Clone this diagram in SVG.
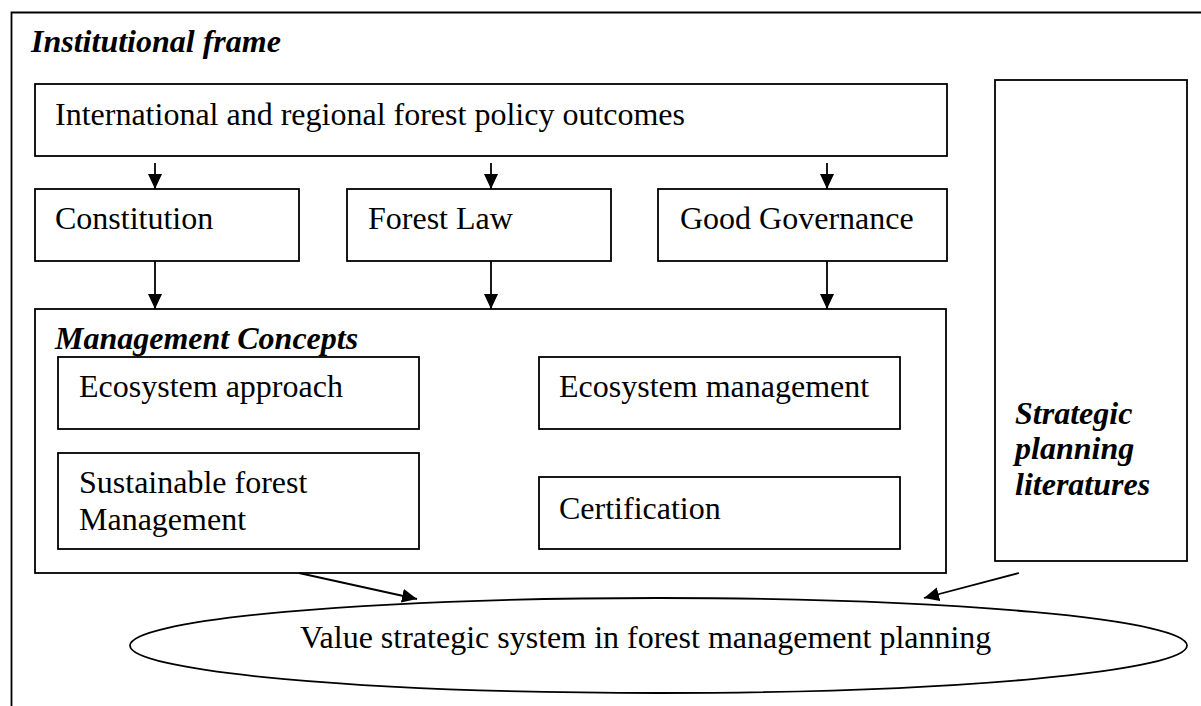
<svg xmlns="http://www.w3.org/2000/svg" width="1201" height="706" viewBox="0 0 1201 706">
<defs>
<style>
.b{fill:#fff;stroke:#000;stroke-width:1.8}
.t{font-family:"Liberation Serif","Times New Roman",serif;font-size:32px;fill:#000}
.bi{font-weight:bold;font-style:italic}
.c{stroke:#000;stroke-width:1.8;fill:none}
</style>
<marker id="ah" markerUnits="userSpaceOnUse" markerWidth="16" markerHeight="15" refX="15" refY="7" orient="auto">
<path d="M0,0 L15,7 L0,14 z" fill="#000"/>
</marker>
</defs>
<rect width="1201" height="706" fill="#fff"/>
<g id="frame">
<path d="M11.5,706 V12.5 H1201" class="c"/>
<text class="t bi" x="31" y="52">Institutional frame</text>
</g>
<g id="international">
<rect class="b" x="35" y="84" width="912" height="72"/>
<text class="t" x="55" y="125">International and regional forest policy outcomes</text>
</g>
<g id="constitution">
<rect class="b" x="35" y="189" width="264" height="72"/>
<text class="t" x="55" y="229">Constitution</text>
</g>
<g id="forestlaw">
<rect class="b" x="347" y="189" width="264" height="72"/>
<text class="t" x="368" y="229">Forest Law</text>
</g>
<g id="goodgov">
<rect class="b" x="658" y="189" width="289" height="72"/>
<text class="t" x="680" y="229">Good Governance</text>
</g>
<g id="management">
<rect class="b" x="35" y="309" width="911" height="264"/>
<text class="t bi" x="55" y="349">Management Concepts</text>
</g>
<g id="ecoapproach">
<rect class="b" x="58" y="357" width="361" height="72"/>
<text class="t" x="79" y="397">Ecosystem approach</text>
</g>
<g id="ecomanagement">
<rect class="b" x="539" y="357" width="361" height="72"/>
<text class="t" x="559" y="397">Ecosystem management</text>
</g>
<g id="sfm">
<rect class="b" x="58" y="453" width="361" height="96"/>
<text class="t" x="79" y="493">Sustainable forest</text>
<text class="t" x="79" y="530">Management</text>
</g>
<g id="certification">
<rect class="b" x="539" y="477" width="361" height="72"/>
<text class="t" x="559" y="519">Certification</text>
</g>
<g id="strategic">
<rect class="b" x="995" y="80" width="192" height="481"/>
<text class="t bi" x="1015" y="424">Strategic</text>
<text class="t bi" x="1015" y="459">planning</text>
<text class="t bi" x="1015" y="495">literatures</text>
</g>
<g id="value">
<ellipse class="b" cx="658.5" cy="645.5" rx="528.5" ry="47.5"/>
<text class="t" x="300" y="648">Value strategic system in forest management planning</text>
</g>
<g id="connectors">
<line class="c" x1="155" y1="163" x2="155" y2="189" marker-end="url(#ah)"/>
<line class="c" x1="491" y1="163" x2="491" y2="189" marker-end="url(#ah)"/>
<line class="c" x1="827" y1="163" x2="827" y2="189" marker-end="url(#ah)"/>
<line class="c" x1="155" y1="261" x2="155" y2="309" marker-end="url(#ah)"/>
<line class="c" x1="491" y1="261" x2="491" y2="309" marker-end="url(#ah)"/>
<line class="c" x1="827" y1="261" x2="827" y2="309" marker-end="url(#ah)"/>
<line class="c" x1="299" y1="573" x2="417" y2="599" marker-end="url(#ah)"/>
<line class="c" x1="1019" y1="573" x2="924" y2="598" marker-end="url(#ah)"/>
</g>
</svg>
